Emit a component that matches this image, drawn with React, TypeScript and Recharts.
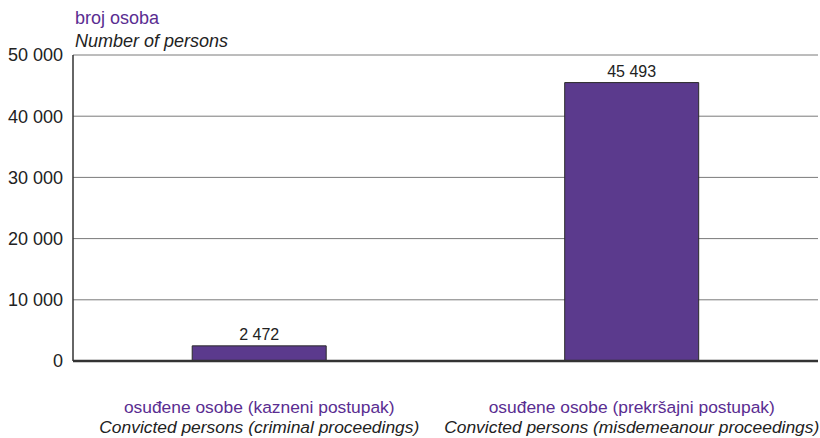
import { Bar, BarChart, CartesianGrid, LabelList, XAxis, YAxis } from "recharts";

document.body.style.margin = "0";

const categoriesHr = ["osuđene osobe (kazneni postupak)", "osuđene osobe (prekršajni postupak)"];
const categoriesEn = ["Convicted persons (criminal proceedings)", "Convicted persons (misdemeanour proceedings)"];
const persons = [2472, 45493];
const yTicks = [0, 10000, 20000, 30000, 40000, 50000];

const PURPLE_TEXT = "#5a2d91";
const BAR = "#5b3a8d";
const FONT = "'Liberation Sans', Arial, sans-serif";

const fmt = (v: number) => v.toLocaleString("en-US").replace(/,/g, " ");

const data = categoriesHr.map((hr, i) => ({ key: i, hr, en: categoriesEn[i], persons: persons[i] }));

function CategoryTick({ x, y, payload }: any) {
  const d = data[payload.value];
  return (
    <text x={x} y={y} textAnchor="middle" fontFamily={FONT} fontSize={17.4}>
      <tspan x={x} dy={44} fill={PURPLE_TEXT}>{d.hr}</tspan>
      <tspan x={x} dy={20} fill="#222" fontStyle="italic">{d.en}</tspan>
    </text>
  );
}

export default function App() {
  return (
    <div style={{ position: "relative", width: 820, height: 438, background: "#fff", fontFamily: FONT }}>
      <div style={{ position: "absolute", left: 75, top: 7, fontSize: 18, lineHeight: "22px", color: PURPLE_TEXT }}>
        broj osoba
      </div>
      <div style={{ position: "absolute", left: 75, top: 30, fontSize: 18, lineHeight: "22px", color: "#222", fontStyle: "italic" }}>
        Number of persons
      </div>
      <BarChart
        width={820}
        height={438}
        data={data}
        margin={{ top: 55, right: 2, left: 0, bottom: 0 }}
        barCategoryGap="32%"
        style={{ position: "absolute", left: 0, top: 0 }}
      >
        <CartesianGrid vertical={false} horizontal stroke="#7a7a7a" strokeWidth={1} />
        <XAxis
          dataKey="key"
          type="category"
          tick={<CategoryTick />}
          tickLine={false}
          axisLine={{ stroke: "#333", strokeWidth: 2.5 }}
          height={77}
          interval={0}
        />
        <XAxis xAxisId="top" dataKey="key" orientation="top" tick={false} tickLine={false} height={0} axisLine={{ stroke: "#333", strokeWidth: 1.5 }} />
        <YAxis
          domain={[0, 50000]}
          ticks={yTicks}
          width={73}
          tickFormatter={fmt}
          tickLine={false}
          axisLine={{ stroke: "#333", strokeWidth: 1.5 }}
          tick={{ fontSize: 18, fill: "#222", fontFamily: FONT }}
          tickMargin={4}
        />
        <YAxis yAxisId="right" orientation="right" domain={[0, 50000]} tick={false} tickLine={false} width={0} axisLine={{ stroke: "#333", strokeWidth: 1.5 }} />
        <Bar dataKey="persons" fill={BAR} stroke="#2a2a2a" strokeWidth={1} isAnimationActive={false}>
          <LabelList dataKey="persons" position="top" formatter={(v: any) => fmt(Number(v))} fill="#222" fontSize={16} fontFamily={FONT} offset={6} />
        </Bar>
      </BarChart>
    </div>
  );
}
